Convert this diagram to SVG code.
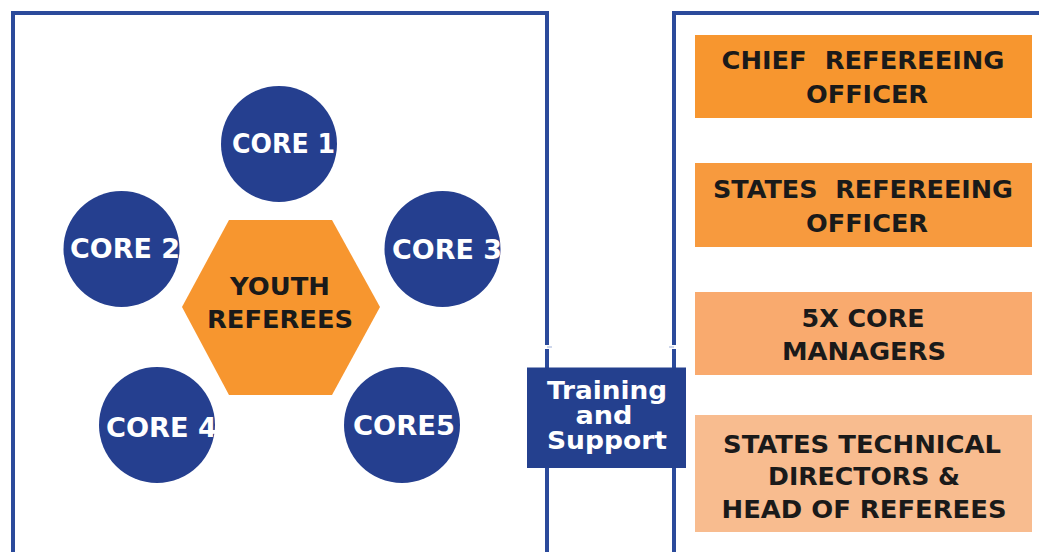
<svg xmlns="http://www.w3.org/2000/svg" width="1039" height="552" viewBox="0 0 1039 552">
<style>
.frame{fill:none;stroke:#2B4A9B;stroke-width:4}
.core{fill:#253F8F}
.lbl{font-family:"DejaVu Sans","Liberation Sans",sans-serif;font-weight:bold;text-anchor:middle;white-space:pre}
.w{fill:#ffffff}
.k{fill:#1a1a1a}
.c{font-size:27px}
.h{font-size:25px}
.r{font-size:24px}
.t{font-size:25px}
</style>
<rect width="1039" height="552" fill="#ffffff"/>
<g id="frames">
<path class="frame" d="M13,552 V13 H547 V345"/>
<path class="frame" d="M547,349 V552"/>
<path class="frame" d="M674,552 V13 H1041"/>
</g>
<g id="connectors">
<path class="frame" d="M674,345 V13"/>
<path class="frame" d="M674,349 V552"/>
<rect x="545" y="345" width="4" height="4" fill="#ffffff"/>
<rect x="672" y="345" width="4" height="4" fill="#ffffff"/>
<line x1="547" y1="347" x2="552" y2="347" stroke="#9fb0d8" stroke-width="1"/>
<line x1="669" y1="347" x2="674" y2="347" stroke="#9fb0d8" stroke-width="1"/>
</g>
<g id="youth-referees">
<polygon points="182,307 229,220 332,220 380,307 332,395 229,395" fill="#F7962F"/>
<text class="lbl k h" x="280" y="295" textLength="100" lengthAdjust="spacingAndGlyphs">YOUTH</text>
<text class="lbl k h" x="280" y="328" textLength="146" lengthAdjust="spacingAndGlyphs">REFEREES</text>
</g>
<g id="core1">
<circle class="core" cx="279" cy="144" r="58"/>
<text class="lbl w c" x="283.5" y="153" textLength="103" lengthAdjust="spacingAndGlyphs">CORE 1</text>
</g>
<g id="core2">
<circle class="core" cx="121.5" cy="249" r="58"/>
<text class="lbl w c" x="125" y="258" textLength="110" lengthAdjust="spacingAndGlyphs">CORE 2</text>
</g>
<g id="core3">
<circle class="core" cx="442.5" cy="249" r="58"/>
<text class="lbl w c" x="447" y="259" textLength="110" lengthAdjust="spacingAndGlyphs">CORE 3</text>
</g>
<g id="core4">
<circle class="core" cx="157" cy="425" r="58"/>
<text class="lbl w c" x="161.5" y="437" textLength="111" lengthAdjust="spacingAndGlyphs">CORE 4</text>
</g>
<g id="core5">
<circle class="core" cx="402" cy="425" r="58"/>
<text class="lbl w c" x="404" y="435" textLength="102" lengthAdjust="spacingAndGlyphs">CORE5</text>
</g>
<g id="training-support">
<rect x="527" y="367.5" width="159" height="100.5" fill="#24408E"/>
<text class="lbl w t" x="607" y="399" textLength="120" lengthAdjust="spacingAndGlyphs">Training</text>
<text class="lbl w t" x="604" y="424" textLength="57" lengthAdjust="spacingAndGlyphs">and</text>
<text class="lbl w t" x="607" y="449" textLength="120" lengthAdjust="spacingAndGlyphs">Support</text>
</g>
<g id="chief-refereeing-officer">
<rect x="695" y="35" width="337" height="83" fill="#F7962F"/>
<text class="lbl k r" x="863" y="69" textLength="283" lengthAdjust="spacingAndGlyphs" xml:space="preserve">CHIEF  REFEREEING</text>
<text class="lbl k r" x="867" y="103" textLength="122" lengthAdjust="spacingAndGlyphs">OFFICER</text>
</g>
<g id="states-refereeing-officer">
<rect x="695" y="163" width="337" height="84" fill="#F79A3E"/>
<text class="lbl k r" x="863" y="198" textLength="300" lengthAdjust="spacingAndGlyphs" xml:space="preserve">STATES  REFEREEING</text>
<text class="lbl k r" x="867" y="232" textLength="122" lengthAdjust="spacingAndGlyphs">OFFICER</text>
</g>
<g id="core-managers">
<rect x="695" y="292" width="337" height="83" fill="#F9AA6E"/>
<text class="lbl k r" x="863" y="327" textLength="123" lengthAdjust="spacingAndGlyphs">5X CORE</text>
<text class="lbl k r" x="864" y="360" textLength="164" lengthAdjust="spacingAndGlyphs">MANAGERS</text>
</g>
<g id="technical-directors">
<rect x="695" y="415" width="337" height="117" fill="#F8BC8F"/>
<text class="lbl k r" x="862" y="453" textLength="278" lengthAdjust="spacingAndGlyphs">STATES TECHNICAL</text>
<text class="lbl k r" x="864" y="485" textLength="192" lengthAdjust="spacingAndGlyphs">DIRECTORS &amp;</text>
<text class="lbl k r" x="864" y="518" textLength="285" lengthAdjust="spacingAndGlyphs">HEAD OF REFEREES</text>
</g>
</svg>
